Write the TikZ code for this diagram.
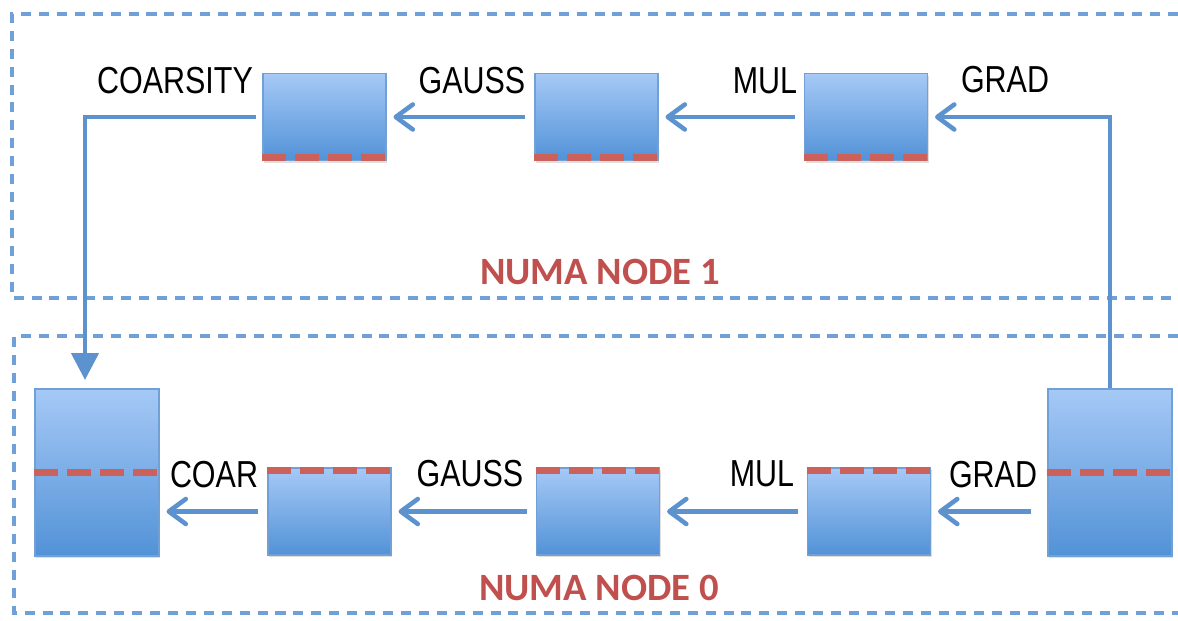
\documentclass[tikz,border=0pt]{standalone}
\usepackage{fontspec}
\setmainfont{Liberation Sans}
\newfontfamily\labelfont[FakeStretch=0.81]{Liberation Sans}
\newfontfamily\numafont{Carlito}
\usetikzlibrary{arrows.meta,shadows}

\definecolor{boxtop}{RGB}{166,201,246}
\definecolor{boxbottom}{RGB}{82,146,215}
\definecolor{boxedge}{RGB}{112,160,214}
\definecolor{flowblue}{RGB}{92,146,206}
\definecolor{pagered}{RGB}{204,96,90}
\definecolor{numared}{RGB}{192,80,77}
\definecolor{frameblue}{RGB}{112,160,216}

\begin{document}
\begin{tikzpicture}[
    x=0.02cm, y=-0.02cm,
    every node/.style={font=\labelfont},
    task/.style={draw=boxedge, line width=0.6pt, top color=boxtop, bottom color=boxbottom,
        minimum width=2.46cm, minimum height=1.74cm, inner sep=0pt,
        drop shadow={shadow xshift=0.6pt, shadow yshift=-1.2pt, opacity=0.25}},
    big task/.style={task, minimum width=2.48cm, minimum height=3.34cm},
    stage label/.style={inner sep=0pt, font=\labelfont\fontsize{21.4pt}{24pt}\selectfont},
    numa label/.style={inner sep=0pt, text=numared, font=\numafont\bfseries\fontsize{22pt}{26pt}\selectfont},
    flow/.style={draw=flowblue, line width=2.6pt, -{Straight Barb[length=0.34cm,width=0.5cm,round]},
        shorten <=0.18cm, shorten >=0.14cm},
    page line/.style={draw=pagered, line width=4pt, dash pattern=on 0.48cm off 0.18cm},
    numa frame/.style={draw=frameblue, line width=1.9pt, dash pattern=on 5.7pt off 4.5pt}
]
    \useasboundingbox (0,0) rectangle (1178,621);

    % NUMA frames, open to the right
    \draw[numa frame] (1178,14) -- (12,14) -- (12,298) -- (1178,298);
    \draw[numa frame] (1178,336) -- (14,336) -- (14,613) -- (1178,613);
    \node[numa label] (numa1) at (600,272) {NUMA NODE 1};
    \node[numa label] (numa0) at (599,588) {NUMA NODE 0};

    % Top row: NUMA node 1
    \node[task] (tc) at (324.5,117) {};
    \node[task] (tg) at (596.5,117) {};
    \node[task] (tm) at (866,117) {};
    \node[stage label] (tcl) at (175,81) {COARSITY};
    \node[stage label] (tgl) at (472,81) {GAUSS};
    \node[stage label] (tml) at (765,81) {MUL};
    \node[stage label] (trl) at (1005,80) {GRAD};

    % Bottom row: NUMA node 0
    \node[big task] (bl) at (97,472.5) {};
    \node[task] (bc) at (329.5,511.5) {};
    \node[task] (bg) at (598,511.5) {};
    \node[task] (bm) at (869,511.5) {};
    \node[big task] (br) at (1110,472.5) {};
    \node[stage label] (bcl) at (214,475) {COAR};
    \node[stage label] (bgl) at (470,474) {GAUSS};
    \node[stage label] (bml) at (762,474) {MUL};
    \node[stage label] (brl) at (993,475) {GRAD};

    % Page lines
    \draw[page line] ([yshift=0.07cm]tc.south west) -- ([yshift=0.07cm]tc.south east);
    \draw[page line] ([yshift=0.07cm]tg.south west) -- ([yshift=0.07cm]tg.south east);
    \draw[page line] ([yshift=0.07cm]tm.south west) -- ([yshift=0.07cm]tm.south east);
    \draw[page line] ([yshift=-0.07cm]bc.north west) -- ([yshift=-0.07cm]bc.north east);
    \draw[page line] ([yshift=-0.07cm]bg.north west) -- ([yshift=-0.07cm]bg.north east);
    \draw[page line] ([yshift=-0.07cm]bm.north west) -- ([yshift=-0.07cm]bm.north east);
    \draw[page line] (bl.west) -- (bl.east);
    \draw[page line] (br.west) -- (br.east);

    % Flow between stages
    \coordinate (drop) at (85,389);
    \draw[flow] (tm.west) -- (tg.east);
    \draw[flow] (tg.west) -- (tc.east);
    \draw[flow, -{Triangle[length=0.54cm,width=0.54cm]}, shorten <=0.12cm, shorten >=0.18cm]
        (tc.west) -| (drop);
    \draw[flow, shorten <=0pt] (br.north) |- (tm.east);
    \draw[flow, shorten <=0.32cm] (bm.east -| br.west) -- (bm.east);
    \draw[flow] (bm.west) -- (bg.east);
    \draw[flow] (bg.west) -- (bc.east);
    \draw[flow] (bc.west) -- (bc.west -| bl.east);
\end{tikzpicture}
\end{document}
